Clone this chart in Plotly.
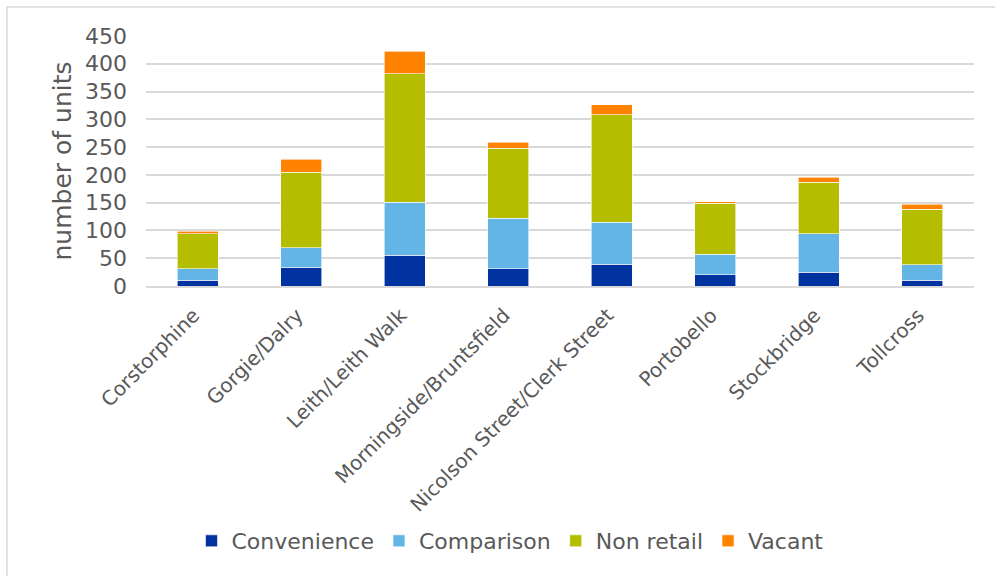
import plotly.graph_objects as go

# Town centre units by category
areas = ["Corstorphine", "Gorgie/Dalry", "Leith/Leith Walk", "Morningside/Bruntsfield",
         "Nicolson Street/Clerk Street", "Portobello", "Stockbridge", "Tollcross"]
convenience = [10, 34, 55, 31, 39, 20, 25, 10]
comparison = [21, 35, 96, 91, 76, 37, 69, 28]
non_retail = [63, 136, 231, 126, 193, 92, 93, 100]
vacant = [5, 23, 41, 11, 18, 3, 9, 9]

series = [
    ("Convenience", convenience, "#0033A0"),
    ("Comparison", comparison, "#62B5E5"),
    ("Non retail", non_retail, "#B5BD00"),
    ("Vacant", vacant, "#FF8200"),
]

FONT = "DejaVu Sans"
GREY = "#595959"

fig = go.Figure()
for name, vals, col in series:
    fig.add_trace(go.Bar(
        x=areas, y=vals, name=name,
        marker=dict(color=col, line=dict(color="white", width=0.6)),
    ))

W, H = 995, 576
L, R, T, B = 146, 21, 36, 290
pw, ph = W - L - R, H - T - B

def px_x(p):
    return (p - L) / pw

def px_y(p):
    return (H - B - p) / ph

fig.update_layout(
    width=W, height=H,
    margin=dict(l=L, r=R, t=T, b=B, autoexpand=False),
    barmode="stack", bargap=0.6,
    plot_bgcolor="white", paper_bgcolor="white",
    font=dict(family=FONT, color=GREY),
    showlegend=True,
    legend=dict(orientation="h", xanchor="center", yanchor="middle",
                x=px_x(510), y=px_y(541), font=dict(size=22, color=GREY),
                traceorder="normal"),
    xaxis=dict(tickangle=-45, tickfont=dict(size=20, color=GREY),
               showgrid=False, showline=True, linecolor="#d9d9d9", linewidth=1.5,
               ticks="", ticklabelstandoff=8, ticklabelshift=-4, automargin=False),
    yaxis=dict(range=[0, 450], dtick=50, tickfont=dict(size=22, color=GREY),
               showgrid=True, gridcolor="#d9d9d9", gridwidth=1.5,
               zeroline=False, showline=False, ticks="",
               ticklabelstandoff=18, automargin=False,
               title=dict(text="number of units", font=dict(size=25, color=GREY),
                          standoff=6)),
    shapes=[dict(type="rect", xref="paper", yref="paper",
                 x0=px_x(7), x1=px_x(1000), y0=px_y(585), y1=px_y(7),
                 line=dict(color="#d9d9d9", width=1.5), layer="below")],
)

fig.write_html("out.html", config={"displayModeBar": False})
